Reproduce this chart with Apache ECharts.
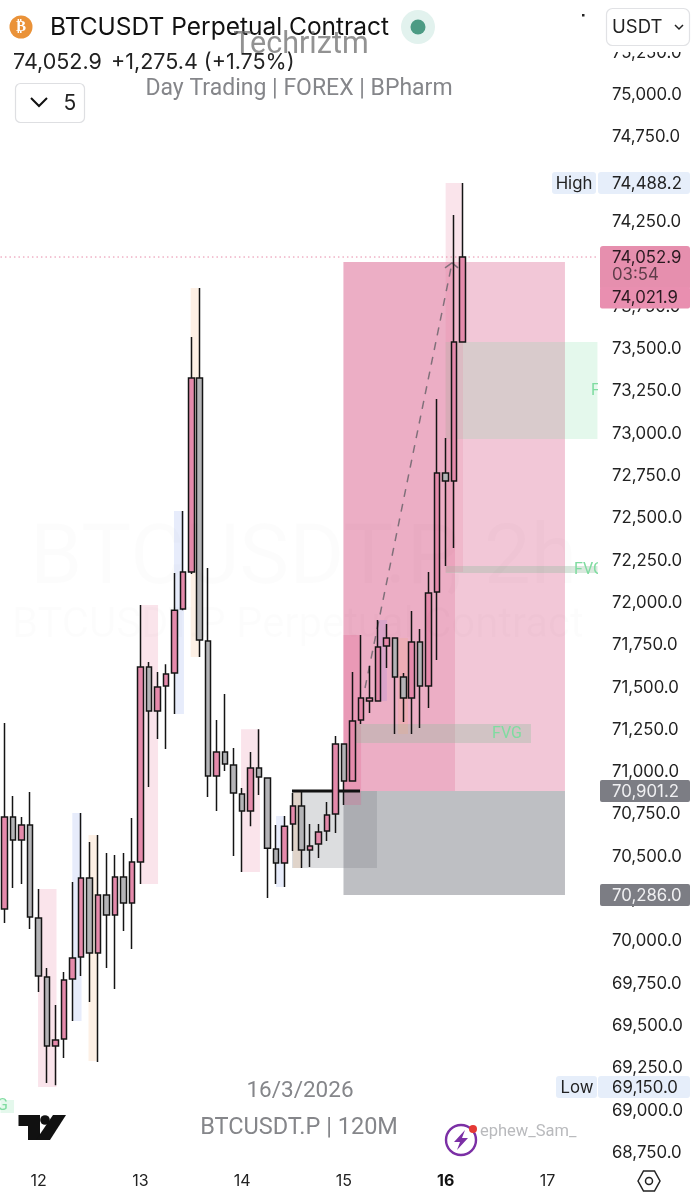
<!DOCTYPE html>
<html lang="en">
<head>
    <meta charset="UTF-8">
    <title>BTCUSDT Perpetual Contract</title>
    <script src="https://cdn.jsdelivr.net/npm/echarts@6/dist/echarts.min.js"></script>
    <style>
        html, body { margin: 0; padding: 0; background: #fff; }
        #chart { width: 697px; height: 1200px; }
    </style>
</head>
<body>
    <div id="chart"></div>
<script>
    // candle values, 2h bars, index 0 is the first candle at the left edge
    var opens = [70191,70735,70599,70687,70138,69789,69382,69423,69778,69908,70374,69931,70274,70156,70380,70227,70469,71621,71361,71509,71585,71963,72182,73328,71774,70977,71119,71042,70871,70770,71024,70965,70546,70463,70693,70800,70540,70575,70652,70752,71166,70947,71308,71420,71420,71745,71792,71562,71438,71769,71509,72064,72767,72720,73541];
    var closes = [70735,70599,70687,70144,69795,69382,69417,69772,69902,70374,69931,70274,70156,70380,70227,70469,71621,71361,71503,71579,71957,72182,73328,71780,70977,71119,71048,70876,70770,71024,70971,70551,70463,70681,70800,70540,70563,70646,70746,71166,70947,71302,71438,71438,71739,71792,71562,71438,71769,71509,72058,72767,72720,73541,74043];
    var lows = [70108,70315,70339,70073,69701,69163,69150,69311,69530,69795,69642,69287,69843,69719,70061,69955,70339,70912,71195,71136,71343,71957,72170,71680,70853,70770,71006,70504,70410,70681,70865,70256,70339,70321,70534,70433,70439,70492,70593,70640,70806,70947,71284,71349,71420,71615,71225,71296,71225,71260,71379,71662,72217,72324,73541];
    var highs = [71290,70859,70735,70882,70309,69843,69624,69819,70351,70758,70587,70628,70522,70510,70522,70729,71987,71650,71591,71638,72176,72542,73570,73860,72206,71308,71461,71142,70906,71119,71254,70965,70687,70741,70876,70888,70693,70693,70823,71213,71166,71591,71810,71627,71898,71875,71792,71585,71952,71845,72182,73204,72974,74291,74480];

    // x axis tick labels, each sits on a candle index
    var dayTicks = [4, 16, 28, 40, 52, 64];
    var dayLabels = ['12', '13', '14', '15', '16', '17'];
    var boldDay = '16';

    // zones: [from index, to index, upper price, lower price]
    var rangeZone = [[39.95, 66.07, 74013, 70888]];
    var rangeLeftZone = [[39.95, 53.1, 74013, 70888]];
    var discountZone = [[39.95, 66.07, 70888, 70274]];
    var baseZone = [[33.88, 43.9, 70888, 70433]];
    var blockZone = [[39.95, 42.02, 71810, 70806]];
    var fvgBands = [[41.43, 62.06, 71284, 71172], [52, 69.9, 72217, 72176]];
    var fvgBoxes = [[52, 69.9, 73541, 72968], [-0.5, 1.1, 69063, 68986]];
    var pinkColumns = [[3.93, 6.11, 70309, 69140], [16.07, 18.08, 71987, 70339], [27.87, 30.1, 71254, 70410], [52, 54.04, 74480, 72182]];
    var blueColumns = [[7.97, 9.06, 70758, 69530], [19.96, 21.14, 72542, 71343], [32, 33.05, 70741, 70321]];
    var orangeColumns = [[9.88, 11, 70628, 69293], [21.93, 23.03, 73860, 71680], [34, 35.06, 70888, 70433], [46.38, 47.56, 71792, 71225]];
    var purpleColumns = [[44.02, 45.08, 71898, 71420]];

    // [index, price] of the FVG captions, the ones at the edges get cut by the grid
    var fvgLabels = [[59.23, 71228], [68.9, 72197], [70.91, 73251], [-1.38, 69025]];

    var structureLine = [[33.88, 70888], [41.9, 70888]];
    var lastPriceLine = [[-0.5, 74043], [69.9, 74043]];
    var trendLine = [[42.49, 71497], [52.75, 74008]];
    var trendHead = [[51.92, 73979], [52.75, 74008], [53.46, 73979]];

    var candles = opens.map(function (o, i) {
        return [i, o, closes[i], lows[i], highs[i]];
    });

    function zoneSeries(rows, color, z) {
        return {
            type: 'custom',
            silent: true,
            clip: true,
            z: z,
            data: rows,
            renderItem: function (params, api) {
                var a = api.coord([api.value(0), api.value(2)]);
                var b = api.coord([api.value(1), api.value(3)]);
                return {
                    type: 'rect',
                    shape: { x: a[0], y: a[1], width: b[0] - a[0], height: b[1] - a[1] },
                    style: { fill: color }
                };
            }
        };
    }

    function lineSeries(points, style, z) {
        return {
            type: 'line',
            silent: true,
            symbol: 'none',
            z: z,
            data: points,
            lineStyle: style
        };
    }

    function text(x, y, str, font, fill, align, z) {
        return {
            type: 'text',
            z: z || 100,
            style: { x: x, y: y, text: str, font: font, fill: fill, align: align || 'left', verticalAlign: 'middle' }
        };
    }

    function box(x, y, w, h, fill, r, stroke) {
        return {
            type: 'rect',
            z: 99,
            shape: { x: x, y: y, width: w, height: h, r: r || 0 },
            style: { fill: fill, stroke: stroke || null, lineWidth: stroke ? 1.2 : 0 }
        };
    }

    var axisFont = '16.8px Inter';
    var titleGray = '#85868a';

    var chrome = [
        // big faint watermark
        text(30, 562, 'BTCUSDT.P, 2h', '84px Roboto', 'rgba(0,0,0,0.01)', 'left', 0),
        text(12, 627, 'BTCUSDT.P Perpetual Contract', '41.8px Roboto', 'rgba(0,0,0,0.012)', 'left', 0),

        // header
        { type: 'circle', z: 99, shape: { cx: 21, cy: 27, r: 11.5 }, style: { fill: '#ea9238' } },
        text(21, 27.5, '₿', 'bold 15px "DejaVu Sans"', '#fff', 'center'),
        text(50, 28, 'BTCUSDT Perpetual Contract', '24.5px Inter', '#111'),
        { type: 'circle', z: 99, shape: { cx: 418, cy: 27, r: 17 }, style: { fill: '#e2f2ee' } },
        { type: 'circle', z: 100, shape: { cx: 418, cy: 27, r: 7.5 }, style: { fill: '#4c9b84' } },
        text(13, 63, '74,052.9', '21.5px Inter', '#222'),
        text(111, 63, '+1,275.4 (+1.75%)', '21.5px Inter', '#222'),
        text(301, 45, 'Techriztm', '30.5px Roboto', 'rgba(110,110,110,0.75)', 'center'),
        text(299, 89, 'Day Trading | FOREX | BPharm', '23px Roboto', titleGray, 'center'),
        box(15.5, 83.5, 69, 39, '#fff', 5, '#dedfe2'),
        { type: 'polyline', z: 100, shape: { points: [[31, 98], [39, 106], [47, 98]] }, style: { stroke: '#111', lineWidth: 2, fill: null } },
        text(70, 104, '5', '21px Inter', '#222', 'center'),
        { type: 'rect', z: 98, shape: { x: 598, y: 0, width: 99, height: 52 }, style: { fill: '#fff' } },
        box(606.5, 8.5, 83, 37, '#fff', 6, '#e1e2e5'),
        text(612, 27, 'USDT', '18.5px Inter', '#222'),
        { type: 'polyline', z: 100, shape: { points: [[675, 25], [679, 29], [683, 25]] }, style: { stroke: '#222', lineWidth: 1.5, fill: null } },
        box(582, 14, 2.5, 2.5, '#222'),

        // price tags on the scale
        box(552, 172, 44, 22, '#e6eefa', 3),
        text(574, 184, 'High', axisFont, '#222', 'center'),
        box(598, 172, 92, 22, '#e6eefa', 3),
        text(612, 184, '74,488.2', axisFont, '#222'),
        box(600, 246, 90, 44, '#e68fae', 3),
        box(600, 287, 90, 21.5, '#e98fb0', 2),
        text(612, 258, '74,052.9', axisFont, '#2a1a20'),
        text(612, 275, '03:54', axisFont, '#5f3d4a'),
        text(612, 298, '74,021.9', axisFont, '#2a1a20'),
        box(600, 780, 90, 22, '#7c7d84', 2),
        text(612, 792, '70,901.2', axisFont, '#f0f0f2'),
        box(600, 884, 90, 22, '#7c7d84', 2),
        text(612, 896, '70,286.0', axisFont, '#f0f0f2'),
        box(556, 1076, 41, 22, '#e6eefa', 3),
        text(577, 1088, 'Low', axisFont, '#222', 'center'),
        box(598, 1076, 92, 22, '#e6eefa', 3),
        text(612, 1088, '69,150.0', axisFont, '#222'),

        // bottom captions
        text(300, 1091, '16/3/2026', '22.5px Roboto', titleGray, 'center'),
        text(299, 1128, 'BTCUSDT.P | 120M', '23.5px Roboto', titleGray, 'center'),

        // tradingview mark
        { type: 'polygon', z: 100, shape: { points: [[18.5, 1115], [40, 1115], [40, 1140], [28, 1140], [28, 1126], [18.5, 1126]] }, style: { fill: '#111' } },
        { type: 'circle', z: 100, shape: { cx: 45, cy: 1120, r: 4.8 }, style: { fill: '#111' } },
        { type: 'polygon', z: 100, shape: { points: [[53, 1115], [66, 1115], [50, 1140], [36, 1140]] }, style: { fill: '#111' } },

        // author badge
        text(480, 1132, 'ephew_Sam_', '16.5px Roboto', '#b9babd'),
        { type: 'circle', z: 100, shape: { cx: 461, cy: 1140, r: 15 }, style: { fill: '#fff', stroke: '#7b2fa5', lineWidth: 2.4 } },
        { type: 'polygon', z: 100, shape: { points: [[465, 1130], [454, 1142], [460, 1142], [457, 1150], [468, 1138], [462, 1138]] }, style: { fill: '#7b2fa5' } },
        { type: 'circle', z: 100, shape: { cx: 473, cy: 1129, r: 4 }, style: { fill: '#e53935' } },

        // settings hexagon
        { type: 'polygon', z: 100, shape: { points: [[638, 1181], [643.5, 1171], [654.5, 1171], [660, 1181], [654.5, 1191], [643.5, 1191]] }, style: { fill: null, stroke: '#222', lineWidth: 1.5 } },
        { type: 'circle', z: 100, shape: { cx: 649, cy: 1181, r: 3.5 }, style: { fill: null, stroke: '#222', lineWidth: 1.5 } }
    ];

    var myChart = echarts.init(document.getElementById('chart'), null, { renderer: 'canvas' });
    myChart.setOption({
        animation: false,
        backgroundColor: '#fff',
        grid: { left: 0.46, width: 597, top: 52.7, height: 1100.3 },
        xAxis: {
            type: 'value',
            min: -0.5,
            max: 69.9,
            splitLine: { show: false },
            axisLine: { show: false },
            axisTick: { show: false },
            axisLabel: {
                customValues: dayTicks,
                margin: 20,
                fontSize: 16,
                fontFamily: 'Inter',
                color: '#222',
                formatter: function (v) {
                    var day = dayLabels[dayTicks.indexOf(v)];
                    return day === boldDay ? '{b|' + day + '}' : day;
                },
                rich: { b: { fontSize: 16, fontFamily: 'Inter', fontWeight: 'bold', color: '#111' } }
            }
        },
        yAxis: {
            type: 'value',
            position: 'right',
            min: 68750,
            max: 75250,
            interval: 250,
            splitLine: { show: false },
            axisLine: { show: false },
            axisTick: { show: false },
            axisLabel: {
                margin: 14.5,
                padding: [2, 0, 0, 0],
                fontSize: 16.8,
                fontFamily: 'Inter',
                color: '#222',
                formatter: function (v) {
                    return v.toLocaleString('en-US', { minimumFractionDigits: 1 });
                }
            }
        },
        series: [
            zoneSeries(rangeZone, 'rgba(225,122,160,0.42)', 2),
            zoneSeries(rangeLeftZone, 'rgba(225,120,160,0.32)', 2),
            zoneSeries(discountZone, 'rgba(120,122,130,0.48)', 2),
            zoneSeries(fvgBoxes, 'rgba(120,220,160,0.2)', 3),
            zoneSeries(baseZone, 'rgba(120,125,130,0.26)', 3),
            zoneSeries(blockZone, 'rgba(225,90,140,0.25)', 3),
            zoneSeries(fvgBands, 'rgba(150,190,160,0.35)', 3),
            zoneSeries(pinkColumns, 'rgba(232,130,165,0.22)', 3),
            zoneSeries(blueColumns, 'rgba(120,150,235,0.18)', 3),
            zoneSeries(orangeColumns, 'rgba(245,170,110,0.18)', 3),
            zoneSeries(purpleColumns, 'rgba(160,130,220,0.22)', 3),
            {
                type: 'custom',
                silent: true,
                clip: true,
                z: 4,
                data: fvgLabels,
                renderItem: function (params, api) {
                    var p = api.coord([api.value(0), api.value(1)]);
                    return {
                        type: 'text',
                        style: {
                            x: p[0], y: p[1], text: 'FVG', font: '16px Roboto',
                            fill: '#7fdca0', align: 'center', verticalAlign: 'middle'
                        }
                    };
                }
            },
            lineSeries(lastPriceLine, { color: '#e68aa8', width: 1, type: [1.5, 3] }, 4),
            lineSeries(structureLine, { color: '#111', width: 3 }, 4),
            lineSeries(trendLine, { color: '#80707a', width: 1.5, type: [8, 7] }, 4),
            lineSeries(trendHead, { color: '#80707a', width: 1.5 }, 4),
            {
                type: 'candlestick',
                silent: true,
                z: 5,
                barWidth: 6,
                data: candles,
                itemStyle: {
                    color: '#e58aab',
                    color0: '#b4b4b7',
                    borderColor: '#141414',
                    borderColor0: '#141414',
                    borderWidth: 1.5
                }
            }
        ],
        graphic: { elements: chrome }
    });
</script>
</body>
</html>
